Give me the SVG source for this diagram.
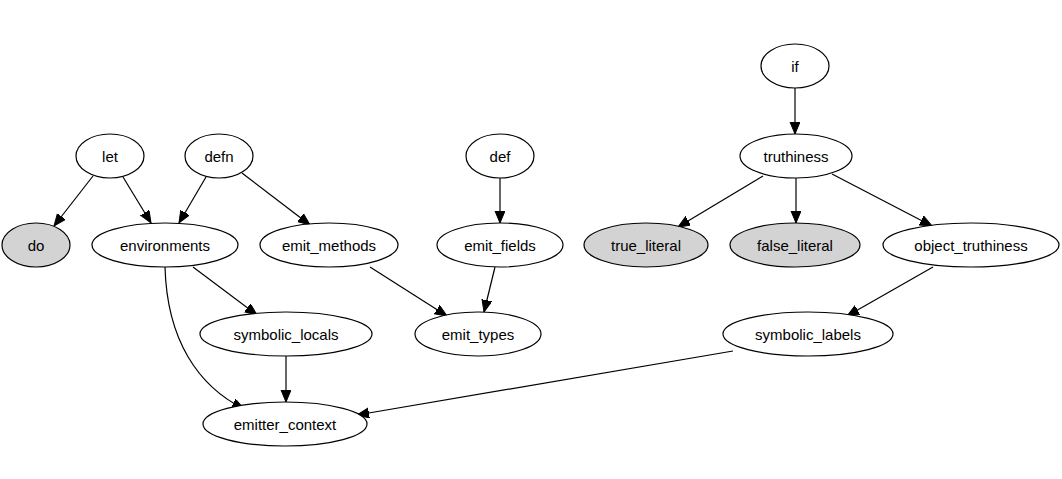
<svg xmlns="http://www.w3.org/2000/svg" width="1062" height="479" viewBox="0 0 1062 479">
<style>
.n ellipse{fill:#fff;stroke:#000;stroke-width:1.2}
.n.g ellipse{fill:#d3d3d3}
.n text{font-family:"Liberation Sans",Arial,sans-serif;font-size:15px;fill:#000;text-anchor:middle;dominant-baseline:central}
#edges path{fill:none;stroke:#000;stroke-width:1.2;marker-end:url(#ah)}
</style>
<defs>
<marker id="ah" markerUnits="userSpaceOnUse" markerWidth="13" markerHeight="11" refX="12" refY="5" orient="auto">
<path d="M0,0 L12,5 L0,10 z" fill="#000" stroke="#000" stroke-width="1"/>
</marker>
</defs>
<rect width="1062" height="479" fill="#fff"/>
<g id="edges">
<path d="M795,88 L795,134"/>
<path d="M93,176 L54,226"/>
<path d="M123,177 L151,223"/>
<path d="M206,177 L179,223"/>
<path d="M242,173 L310,225"/>
<path d="M500,178 L500,223"/>
<path d="M370,267 L447,316"/>
<path d="M495,267 L484,312"/>
<path d="M193,267 L257,315"/>
<path d="M165,267 C167,340 198,386 244,409"/>
<path d="M286,356 L286,402"/>
<path d="M733,351 L357,415"/>
<path d="M763,176 L678,227"/>
<path d="M796,178 L796,223"/>
<path d="M832,174 L932,226"/>
<path d="M933,267 L847,316"/>
</g>
<g id="if" class="n"><ellipse cx="795" cy="66" rx="34" ry="22"/><text x="795" y="66">if</text></g>
<g id="let" class="n"><ellipse cx="110" cy="156" rx="34" ry="22"/><text x="110" y="156">let</text></g>
<g id="defn" class="n"><ellipse cx="219" cy="156" rx="34" ry="22"/><text x="219" y="156">defn</text></g>
<g id="def" class="n"><ellipse cx="500" cy="156" rx="34" ry="22"/><text x="500" y="156">def</text></g>
<g id="truthiness" class="n"><ellipse cx="796" cy="156" rx="56" ry="22"/><text x="796" y="156">truthiness</text></g>
<g id="do" class="n g"><ellipse cx="36" cy="245" rx="34" ry="22"/><text x="36" y="245">do</text></g>
<g id="environments" class="n"><ellipse cx="165" cy="245" rx="73" ry="22"/><text x="165" y="245">environments</text></g>
<g id="emit_methods" class="n"><ellipse cx="329" cy="245" rx="69" ry="22"/><text x="329" y="245">emit_methods</text></g>
<g id="emit_fields" class="n"><ellipse cx="500" cy="245" rx="63" ry="22"/><text x="500" y="245">emit_fields</text></g>
<g id="true_literal" class="n g"><ellipse cx="646" cy="245" rx="62" ry="22"/><text x="646" y="245">true_literal</text></g>
<g id="false_literal" class="n g"><ellipse cx="795" cy="245" rx="65" ry="22"/><text x="795" y="245">false_literal</text></g>
<g id="object_truthiness" class="n"><ellipse cx="971" cy="245" rx="88" ry="22"/><text x="971" y="245">object_truthiness</text></g>
<g id="symbolic_locals" class="n"><ellipse cx="286" cy="334" rx="86" ry="22"/><text x="286" y="334">symbolic_locals</text></g>
<g id="emit_types" class="n"><ellipse cx="478" cy="334" rx="63" ry="22"/><text x="478" y="334">emit_types</text></g>
<g id="symbolic_labels" class="n"><ellipse cx="808" cy="334" rx="85" ry="22"/><text x="808" y="334">symbolic_labels</text></g>
<g id="emitter_context" class="n"><ellipse cx="285" cy="424" rx="82" ry="22"/><text x="285" y="424">emitter_context</text></g>
</svg>
